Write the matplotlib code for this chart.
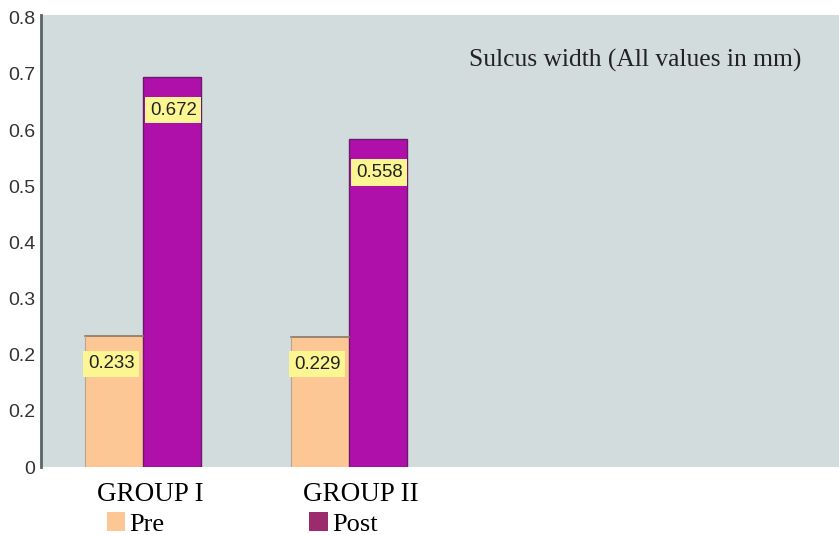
import matplotlib.pyplot as plt
from matplotlib.patches import Patch
from matplotlib.transforms import ScaledTranslation
import numpy as np

# Data
groups = ["GROUP I", "GROUP II"]
series = ["Pre", "Post"]
bar_pre = [0.233, 0.232]
bar_post = [0.695, 0.584]
label_pre = ["0.233", "0.229"]
label_post = ["0.672", "0.558"]
yticks = [0, 0.1, 0.2, 0.3, 0.4, 0.5, 0.6, 0.7, 0.8]
ytick_labels = ["0", "0.2", "0.2", "0.3", "0.4", "0.5", "0.6", "0.7", "0.8"]
title = "Sulcus width (All values in mm)"

# Style
BG = "#d3dcdd"
PRE_COLOR = "#fcc794"
POST_COLOR = "#b010aa"
POST_LEGEND = "#9b2b6c"
LABEL_BOX = "#fbf592"
SANS = "Liberation Sans"
SERIF = "Liberation Serif"

fig = plt.figure(figsize=(8.39, 5.35), dpi=100)
ax = fig.add_axes([41 / 839, 68 / 535, 798 / 839, 452 / 535])
ax.set_facecolor(BG)

x = np.arange(len(groups))
w = 0.282
ax.bar(x - w / 2, bar_pre, width=w, color=PRE_COLOR, edgecolor="none")
ax.bar(x + w / 2, bar_post, width=w, color=POST_COLOR, edgecolor="#6a1a6a", linewidth=1.0)
# thin brownish top line on Pre bars
for xi, h in zip(x, bar_pre):
    ax.plot([xi - w, xi], [h, h], color="#8a7866", lw=1.2)
    ax.plot([xi - w, xi - w], [0, h], color="#b8a590", lw=0.8)

box = dict(boxstyle="square,pad=0.25", fc=LABEL_BOX, ec="none")
for xi, h, lab in zip(x, bar_pre, label_pre):
    ax.annotate(lab, xy=(xi - w, h), xytext=(3, -19), textcoords="offset pixels",
                ha="left", va="top", fontsize=13.4, family=SANS,
                color="#222222", bbox=box)
for xi, h, lab in zip(x, bar_post, label_post):
    ax.annotate(lab, xy=(xi, h), xytext=(7, -25), textcoords="offset pixels",
                ha="left", va="top", fontsize=13.4, family=SANS,
                color="#222222", bbox=box)

ax.set_xlim(-0.495, 3.379)
ax.set_ylim(0, 0.805)
ax.set_yticks(yticks)
ax.set_yticklabels(ytick_labels, fontsize=14, family=SANS, color="#333333")
ax.tick_params(axis="y", length=0, pad=4)
ax.set_xticks(x)
ax.set_xticklabels(groups, fontsize=19.5, family=SERIF, color="black", ha="left")
ax.tick_params(axis="x", length=0, pad=11)
shift = ScaledTranslation(-46 / 100, 0, fig.dpi_scale_trans)
for lbl in ax.get_xticklabels():
    lbl.set_transform(lbl.get_transform() + shift)

for s in ["top", "right", "bottom"]:
    ax.spines[s].set_visible(False)
ax.spines["left"].set_color("#5a6466")
ax.spines["left"].set_linewidth(2)

ax.text(0.536, 0.9, title, transform=ax.transAxes, ha="left", va="center",
        fontsize=18.4, family=SERIF, color="#222222")

handles = [Patch(facecolor=PRE_COLOR, edgecolor="none"),
           Patch(facecolor=POST_LEGEND, edgecolor="none")]
fig.legend(handles, series, ncol=2, loc="lower left",
           bbox_to_anchor=(83 / 839, -0.046), frameon=False,
           prop={"family": SERIF, "size": 19}, handlelength=0.7,
           handleheight=0.75, handletextpad=0.15, columnspacing=5.5)

fig.savefig("out.png", dpi=100, facecolor="white")
